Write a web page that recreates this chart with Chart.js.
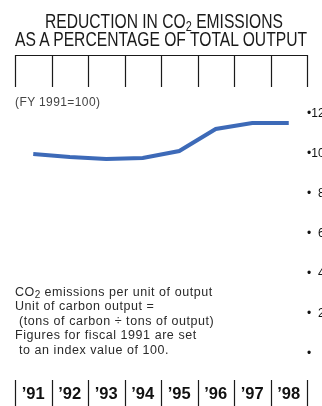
<!DOCTYPE html>
<html>
<head>
<meta charset="utf-8">
<script src="https://cdn.jsdelivr.net/npm/chart.js@4/dist/chart.umd.min.js"></script>
<style>
  html, body { margin: 0; padding: 0; background: #fff; overflow: hidden; }
  #wrap { position: relative; width: 322px; height: 406px; }
  canvas { position: absolute; left: 0; top: 0; }
  .tline {
    position: absolute; white-space: nowrap; transform-origin: 0 0;
    font-family: "Liberation Sans", Arial, sans-serif;
    font-size: 20px; line-height: 20px; color: #1a1a1a;
  }
  .tline sub { font-size: 14px; vertical-align: -3px; line-height: 0; }
  .base {
    position: absolute; left: 15px; top: 95px; white-space: nowrap;
    font-family: "Liberation Sans", Arial, sans-serif; font-size: 12px; letter-spacing: 0.4px; color: #444;
  }
  .notes {
    position: absolute; left: 15px; top: 285px;
    font-family: "Liberation Sans", Arial, sans-serif; font-size: 12.5px; letter-spacing: 0.55px;
    line-height: 14.4px; color: #2a2a2a; white-space: pre;
  }
  .notes sub { font-size: 10px; vertical-align: -2px; line-height: 0; letter-spacing: 0; }
</style>
</head>
<body>
<div id="wrap">
  <canvas id="c" width="322" height="406"></canvas>
  <div class="tline" id="t1" data-left="45" data-width="238" style="top:11px">REDUCTION IN CO<sub>2</sub> EMISSIONS</div>
  <div class="tline" id="t2" data-left="15" data-width="292" style="top:29px">AS A PERCENTAGE OF TOTAL OUTPUT</div>
  <div class="base">(FY 1991=100)</div>
  <div class="notes">CO<sub>2</sub> emissions per unit of output
Unit of carbon output =
 (tons of carbon ÷ tons of output)
Figures for fiscal 1991 are set
 to an index value of 100.</div>
</div>
<script>
// Fiscal years shown along the bottom
const years = ['\u201991', '\u201992', '\u201993', '\u201994', '\u201995', '\u201996', '\u201997', '\u201998'];
// CO2 emissions per unit of output, index (FY1991 = 100)
const emissionIndex = [100, 98.5, 97.5, 98, 101.5, 112.5, 115.5, 115.5];
// Index scale on the right-hand side
const indexTicks = [0, 20, 40, 60, 80, 100, 120];

// Condense the headline lines to their set widths
document.querySelectorAll('.tline').forEach(el => {
  const w = el.getBoundingClientRect().width;
  el.style.left = el.dataset.left + 'px';
  el.style.transform = 'scaleX(' + (Number(el.dataset.width) / w) + ')';
});

const FIG = '\u2007';
function indexLabel(v) {
  const s = String(v);
  return '\u2022' + FIG.repeat(3 - s.length) + s;
}

// Ruled column dividers above and below the plot, one per fiscal year
const columnRules = {
  id: 'columnRules',
  afterDraw(chart) {
    const x = chart.scales.x;
    const ctx = chart.ctx;
    const n = years.length;
    const step = (x.right - x.left) / n;
    ctx.save();
    ctx.strokeStyle = '#1a1a1a';
    ctx.lineWidth = 1.2;
    ctx.beginPath();
    ctx.moveTo(x.left, 55.5);
    ctx.lineTo(x.right + 1, 55.5);
    for (let i = 0; i <= n; i++) {
      const px = Math.round(x.left + i * step) + 0.5;
      ctx.moveTo(px, 55);
      ctx.lineTo(px, 87);
      ctx.moveTo(px, 380);
      ctx.lineTo(px, 406);
    }
    ctx.stroke();
    ctx.restore();
  }
};

new Chart(document.getElementById('c'), {
  type: 'line',
  data: {
    labels: years,
    datasets: [{
      data: emissionIndex,
      borderColor: 'rgb(61,106,184)',
      borderWidth: 4,
      pointRadius: 0,
      tension: 0,
      fill: false
    }]
  },
  options: {
    responsive: false,
    animation: false,
    events: [],
    layout: { padding: { left: 15, top: 114, right: 0, bottom: 0 } },
    plugins: { legend: { display: false }, tooltip: { enabled: false } },
    scales: {
      x: {
        offset: true,
        grid: { display: false, drawTicks: false },
        border: { display: false },
        ticks: {
          color: '#111',
          padding: 31,
          font: { family: '"Liberation Sans", Arial, sans-serif', size: 16.5, weight: 'bold' }
        },
        afterFit(s) { s.height = 52; s.paddingLeft = 0; s.paddingRight = 0; }
      },
      y: {
        position: 'right',
        min: 0,
        max: 120,
        afterBuildTicks(s) { s.ticks = indexTicks.map(v => ({ value: v })); },
        grid: { display: false, drawTicks: false },
        border: { display: false },
        ticks: {
          padding: 0,
          color: '#111',
          font: { family: '"Liberation Sans", Arial, sans-serif', size: 12 },
          callback: v => indexLabel(v)
        },
        afterFit(s) { s.width = 15; s.paddingTop = 0; s.paddingBottom = 0; }
      }
    }
  },
  plugins: [columnRules]
});
</script>
</body>
</html>
